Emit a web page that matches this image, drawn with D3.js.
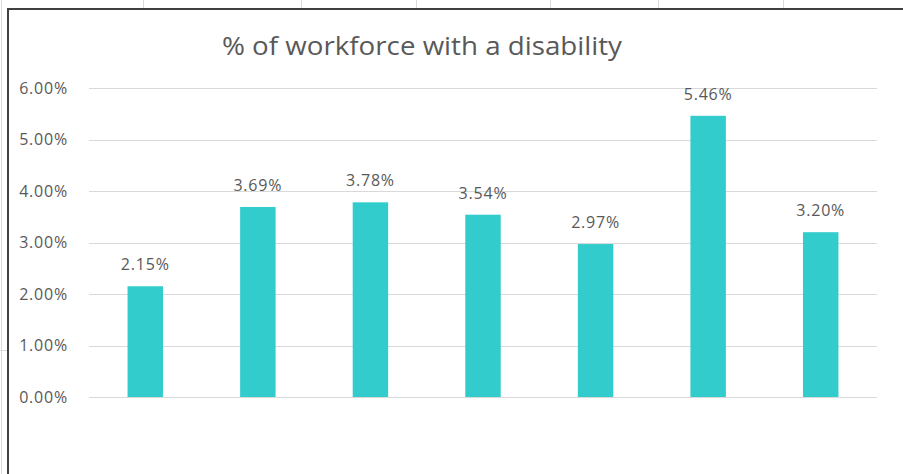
<!DOCTYPE html>
<html>
<head>
<meta charset="utf-8">
<script src="https://cdn.jsdelivr.net/npm/d3@7"></script>
<style>
  body { margin: 0; background: #fff; }
  svg text { font-family: "Open Sans", "Noto Sans", sans-serif; fill: #595959; }
</style>
</head>
<body>
<div id="chart"></div>
<script>
// Chart data
const categories = ["1", "2", "3", "4", "5", "6", "7"];
const values = [0.0215, 0.0369, 0.0378, 0.0354, 0.0297, 0.0546, 0.0320];
const yTicks = [0, 0.01, 0.02, 0.03, 0.04, 0.05, 0.06];
const title = "% of workforce with a disability";

const width = 903;
const height = 474;
const margin = { top: 88, right: 26, bottom: 77, left: 89 };

const svg = d3.select("#chart")
    .append("svg")
    .attr("width", width)
    .attr("height", height);

// Spreadsheet cells behind the chart object
const sheetCols = [143, 301, 416, 550, 658, 783];
svg.selectAll(".col")
    .data(sheetCols)
    .enter()
    .append("line")
    .attr("x1", d => d + 0.5).attr("x2", d => d + 0.5)
    .attr("y1", 0).attr("y2", 9)
    .attr("stroke", "#dadada");
svg.append("line")
    .attr("x1", 1.5).attr("x2", 1.5)
    .attr("y1", 0).attr("y2", height)
    .attr("stroke", "#dadada");
svg.append("line")
    .attr("x1", 0).attr("x2", 8)
    .attr("y1", 350.5).attr("y2", 350.5)
    .attr("stroke", "#dadada");

// Chart frame
svg.append("rect")
    .attr("x", 8)
    .attr("y", 9)
    .attr("width", width + 20)
    .attr("height", height + 20)
    .attr("fill", "#fff")
    .attr("stroke", "#404040")
    .attr("stroke-width", 2);

// Scales
const x = d3.scaleBand()
    .domain(categories)
    .range([margin.left, width - margin.right]);

const y = d3.scaleLinear()
    .domain([0, 0.06])
    .range([height - margin.bottom, margin.top]);

// Gridlines
svg.append("g")
    .selectAll("line")
    .data(yTicks)
    .enter()
    .append("line")
    .attr("x1", margin.left)
    .attr("x2", width - margin.right)
    .attr("y1", d => Math.round(y(d)) + 0.5)
    .attr("y2", d => Math.round(y(d)) + 0.5)
    .attr("stroke", "#d9d9d9")
    .attr("stroke-width", 1);

// Y axis labels
const yAxis = d3.axisLeft(y)
    .tickValues(yTicks)
    .tickFormat(d3.format(".2%"))
    .tickSize(0)
    .tickPadding(0);

svg.append("g")
    .attr("transform", "translate(68,0)")
    .call(yAxis)
    .call(g => g.select(".domain").remove())
    .call(g => g.selectAll("text")
        .attr("font-size", 16)
        .attr("letter-spacing", 0.8)
        .attr("fill", "#595959"));

// Bars
const barW = x.bandwidth() * 0.315;

svg.selectAll(".bar")
    .data(values)
    .enter()
    .append("rect")
    .attr("class", "bar")
    .attr("x", (d, i) => x(categories[i]) + (x.bandwidth() - barW) / 2)
    .attr("y", d => y(d))
    .attr("width", barW)
    .attr("height", d => y(0) - y(d))
    .attr("fill", "#33cccc");

// Data labels
svg.selectAll(".label")
    .data(values)
    .enter()
    .append("text")
    .attr("class", "label")
    .attr("x", (d, i) => x(categories[i]) + x.bandwidth() / 2)
    .attr("y", d => y(d) - 16)
    .attr("text-anchor", "middle")
    .attr("font-size", 16)
    .attr("letter-spacing", 0.8)
    .text(d => d3.format(".2%")(d));

// Title
svg.append("text")
    .attr("x", 422)
    .attr("y", 55)
    .attr("text-anchor", "middle")
    .attr("font-size", 25)
    .attr("textLength", 400)
    .attr("lengthAdjust", "spacingAndGlyphs")
    .text(title);
</script>
</body>
</html>
